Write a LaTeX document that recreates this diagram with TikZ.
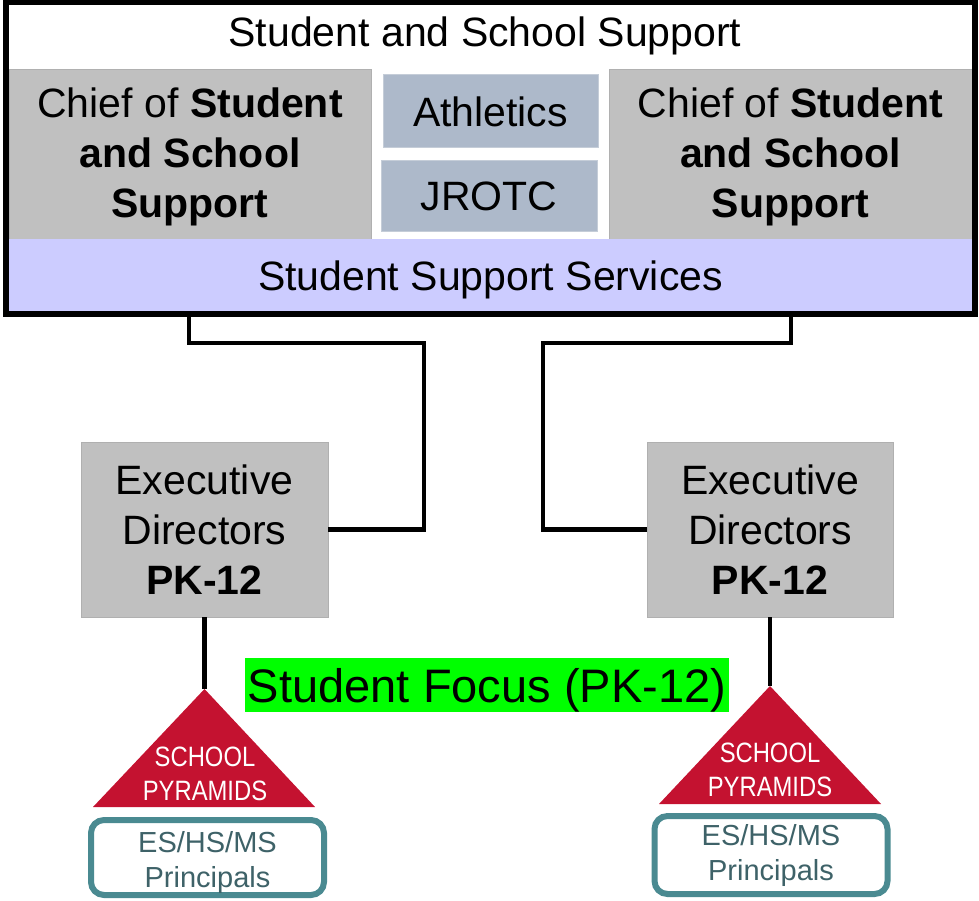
\documentclass[tikz,border=0pt]{standalone}
\usepackage{fontspec}
\setmainfont{Liberation Sans}
\newfontfamily\narrowfont[FakeStretch=0.85]{Liberation Sans}
\definecolor{boxgray}{HTML}{C0C0C0}
\definecolor{boxgrayline}{HTML}{B0B0B0}
\definecolor{steel}{HTML}{ADB9CA}
\definecolor{steelline}{HTML}{C5CDD8}
\definecolor{lavender}{HTML}{CCCCFF}
\definecolor{focusgreen}{HTML}{00FF00}
\definecolor{crimson}{HTML}{C41230}
\definecolor{tealline}{HTML}{4A8A91}
\definecolor{tealtext}{HTML}{3E6268}
\newcommand{\mlines}[1]{\begin{tabular}[t]{@{}c@{}}#1\end{tabular}}
\begin{document}
\begin{tikzpicture}[x=1pt,y=-1pt,
  every node/.style={inner sep=0pt, outer sep=0pt},
  big/.style={font=\fontsize{41}{50}\selectfont},
  graybox/.style={big, fill=boxgray, draw=boxgrayline, line width=0.8pt, anchor=base},
  steelbox/.style={big, fill=steel, draw=steelline, line width=1pt, anchor=base},
  conn/.style={draw=black, line width=4.5pt},
  pyrtext/.style={text=white, font=\fontsize{28}{34}\narrowfont, anchor=base},
  princ/.style={draw=tealline, line width=6pt, fill=white, rounded corners=13pt,
    text=tealtext, font=\fontsize{29}{35}\selectfont, anchor=base, minimum width=233pt}
]
\useasboundingbox (0,0) rectangle (979,901);

% top group
\node[big, anchor=base] (title) at (485,47) {Student and School Support};
\node[graybox, minimum width=362pt, text height=49pt, text depth=121pt] (chiefL) at (190,118)
  {\mlines{Chief of \textbf{Student}\\\textbf{and School}\\\textbf{Support}}};
\node[graybox, minimum width=363pt, text height=49pt, text depth=121pt] (chiefR) at (790.5,118)
  {\mlines{Chief of \textbf{Student}\\\textbf{and School}\\\textbf{Support}}};
\node[steelbox, minimum width=215pt, text height=52pt, text depth=21pt] (ath) at (490.5,127) {Athletics};
\node[steelbox, minimum width=216pt, text height=50pt, text depth=21pt] (jrotc) at (489,211) {JROTC};
\node[big, fill=lavender, minimum width=963pt, text height=51pt, text depth=22pt, anchor=base] (sss) at (490.5,290)
  {Student Support Services};
\node[draw=black, line width=6pt, minimum width=968.5pt, minimum height=311.5pt, anchor=north west] (frame) at (6,2.5) {};

% executive directors
\node[graybox, minimum width=247pt, text height=52pt, text depth=123pt] (execL) at (204.5,494)
  {\mlines{Executive\\Directors\\\textbf{PK-12}}};
\node[graybox, minimum width=246pt, text height=52pt, text depth=123pt] (execR) at (770,494)
  {\mlines{Executive\\Directors\\\textbf{PK-12}}};

% connectors from the top group
\coordinate (tapL) at (189,314);
\coordinate (bendL) at (424,343);
\coordinate (tapR) at (791,314);
\coordinate (bendR) at (543,343);
\draw[conn] (tapL) |- (bendL) |- (execL.east);
\draw[conn] (tapR) |- (bendR) |- (execR.west);

% student focus
\node[fill=focusgreen, minimum width=484pt, text height=44pt, text depth=10pt, anchor=base,
  font=\fontsize{47}{56}\selectfont] (focus) at (487,702) {Student Focus (PK-12)};

% pyramids
\coordinate (apexL) at (204.5,689);
\coordinate (apexR) at (770,686);
\draw[conn] (execL.south) -- (apexL);
\draw[conn] (execR.south) -- (apexR);
\fill[crimson] (apexL) -- (93,807) -- (315,807) -- cycle;
\fill[crimson] (apexR) -- (659,804) -- (881,804) -- cycle;
\node[pyrtext] (pyrL) at (205,766) {\mlines{SCHOOL\\PYRAMIDS}};
\node[pyrtext] (pyrR) at (770,762) {\mlines{SCHOOL\\PYRAMIDS}};

% principals
\node[princ, text height=32pt, text depth=43pt] (prinL) at (207.5,852) {\mlines{ES/HS/MS\\Principals}};
\node[princ, text height=29pt, text depth=49pt] (prinR) at (771,845) {\mlines{ES/HS/MS\\Principals}};
\end{tikzpicture}
\end{document}
